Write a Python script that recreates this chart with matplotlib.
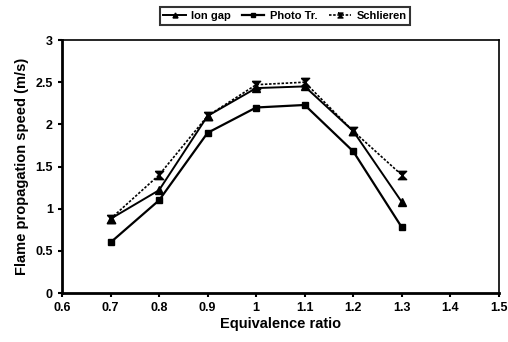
import matplotlib
matplotlib.use("Agg")
from matplotlib import pyplot as plt

ratio = [0.7, 0.8, 0.9, 1.0, 1.1, 1.2, 1.3]
ion_gap = [0.88, 1.22, 2.10, 2.43, 2.45, 1.92, 1.08]
photo_tr = [0.60, 1.10, 1.90, 2.20, 2.23, 1.68, 0.78]
schlieren = [0.88, 1.40, 2.10, 2.47, 2.50, 1.92, 1.40]

plt.rcParams["font.family"] = ["Liberation Sans", "DejaVu Sans"]
plt.rcParams["font.weight"] = "bold"

hourglass = [(-1, 1), (1, 1), (-1, -1), (1, -1), (-1, 1)]

fig, ax = plt.subplots(figsize=(5.08, 3.42), dpi=100)
ax.plot(ratio, ion_gap, color="black", lw=1.4, marker="^", ms=6, label="Ion gap")
ax.plot(ratio, photo_tr, color="black", lw=1.6, marker="s", ms=5, label="Photo Tr.")
ax.plot(ratio, schlieren, color="black", lw=1.2, ls=(0, (1.5, 1)), marker=hourglass, ms=6,
        label="Schlieren")

ax.set_xlim(0.6, 1.5)
ax.set_ylim(0, 3)
ax.set_xticks([0.6, 0.7, 0.8, 0.9, 1.0, 1.1, 1.2, 1.3, 1.4, 1.5])
ax.set_xticklabels(["0.6", "0.7", "0.8", "0.9", "1", "1.1", "1.2", "1.3", "1.4", "1.5"])
ax.set_yticks([0, 0.5, 1, 1.5, 2, 2.5, 3])
ax.set_yticklabels(["0", "0.5", "1", "1.5", "2", "2.5", "3"])
ax.tick_params(labelsize=9, width=1.5, length=3)
for s in ["left", "bottom"]:
    ax.spines[s].set_linewidth(2)
for s in ["top", "right"]:
    ax.spines[s].set_linewidth(1.2)

ax.set_xlabel("Equivalence ratio", fontsize=10.5, fontweight="bold", labelpad=2)
ax.set_ylabel("Flame propagation speed (m/s)", fontsize=10.5, fontweight="bold", labelpad=5)

leg = fig.legend(loc="upper center", bbox_to_anchor=(0.561, 0.995), ncol=3, fontsize=8,
                 frameon=True, fancybox=False, edgecolor="black", handlelength=2.0,
                 handletextpad=0.5, columnspacing=1.0, borderpad=0.35, markerscale=0.6)
leg.get_frame().set_linewidth(1.5)

fig.subplots_adjust(left=0.122, right=0.982, top=0.883, bottom=0.143)
plt.savefig("out.png", dpi=100)
